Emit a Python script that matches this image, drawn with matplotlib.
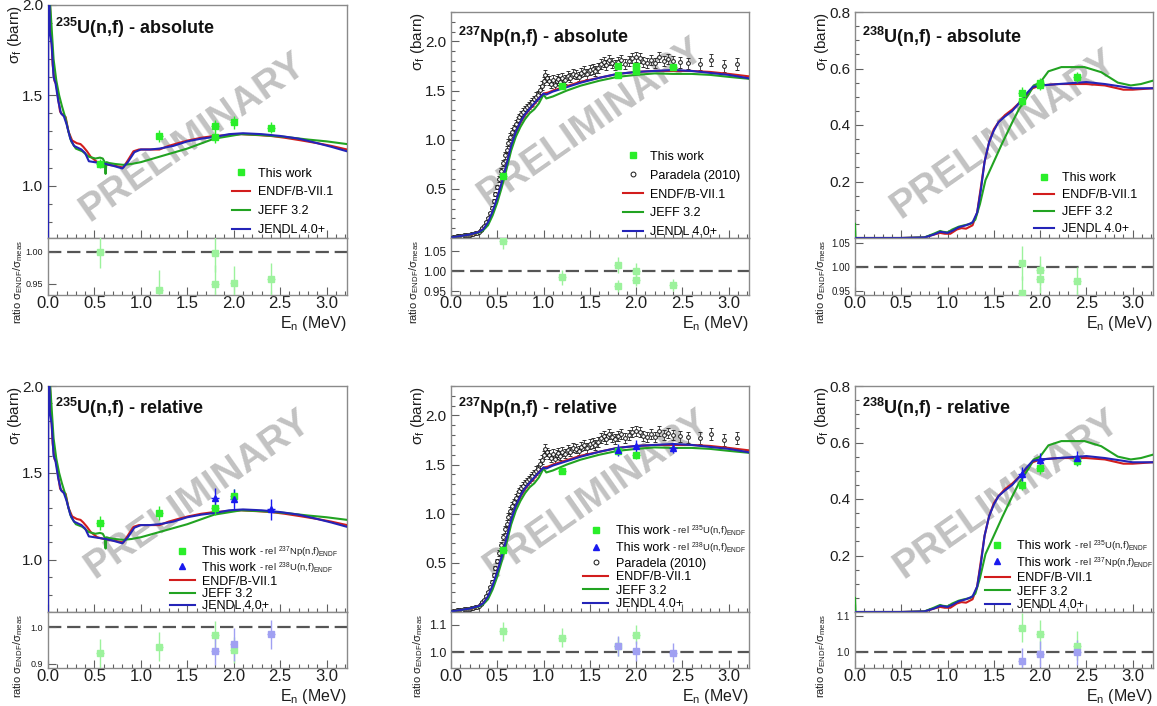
import matplotlib
matplotlib.use("Agg")
import matplotlib.pyplot as plt
from matplotlib.lines import Line2D
from matplotlib.offsetbox import TextArea, HPacker
from matplotlib.ticker import MultipleLocator, FixedLocator, FormatStrFormatter

plt.rcParams["font.family"] = ["Liberation Sans", "DejaVu Sans"]
plt.rcParams["mathtext.fontset"] = "custom"
plt.rcParams["mathtext.rm"] = "Liberation Sans"
plt.rcParams["mathtext.it"] = "Liberation Sans:italic"
plt.rcParams["mathtext.bf"] = "Liberation Sans:bold"

# ---------------- evaluated cross sections (MeV, barn) ----------------
u235_endf_e = [0.015, 0.03, 0.05, 0.07, 0.09, 0.11, 0.13, 0.16, 0.19, 0.22, 0.26, 0.31, 0.35, 0.38,
               0.42, 0.46, 0.53, 0.60, 0.65, 0.72, 0.81, 0.86, 0.92, 0.98, 1.05, 1.12, 1.20, 1.30,
               1.40, 1.51, 1.65, 1.79, 1.95, 2.08, 2.25, 2.40, 2.55, 2.73, 2.90, 3.05, 3.22]
u235_endf_s = [2.10, 1.88, 1.67, 1.58, 1.56, 1.48, 1.41, 1.39, 1.38, 1.30, 1.25, 1.235, 1.23, 1.215,
               1.19, 1.16, 1.13, 1.12, 1.115, 1.11, 1.10, 1.14, 1.19, 1.20, 1.20, 1.20, 1.20, 1.22,
               1.235, 1.25, 1.265, 1.275, 1.28, 1.285, 1.28, 1.275, 1.265, 1.25, 1.235, 1.22, 1.20]
u235_jeff_e = [0.01, 0.03, 0.06, 0.09, 0.12, 0.15, 0.19, 0.22, 0.25, 0.30, 0.37, 0.44, 0.51, 0.56,
               0.59, 0.61, 0.62, 0.63, 0.66, 0.72, 0.81, 0.90, 1.00, 1.20, 1.50, 1.79, 2.08, 2.30,
               2.55, 2.80, 3.00, 3.22]
u235_jeff_s = [2.10, 1.95, 1.70, 1.58, 1.50, 1.44, 1.37, 1.30, 1.245, 1.205, 1.19, 1.16, 1.15, 1.155,
               1.15, 1.13, 1.065, 1.13, 1.125, 1.12, 1.115, 1.12, 1.13, 1.16, 1.205, 1.26, 1.285, 1.28,
               1.27, 1.255, 1.245, 1.23]
u235_jendl_e = [0.0, 0.004, 0.02, 0.04, 0.06, 0.08, 0.11, 0.14, 0.17, 0.20, 0.24, 0.28, 0.32, 0.36,
                0.40, 0.44, 0.50, 0.56, 0.62, 0.70, 0.80, 0.86, 0.93, 1.00, 1.10, 1.20, 1.35, 1.50,
                1.65, 1.80, 1.95, 2.10, 2.30, 2.50, 2.70, 2.90, 3.05, 3.22]
u235_jendl_s = [0.0, 2.6, 1.85, 1.78, 1.60, 1.57, 1.47, 1.40, 1.385, 1.34, 1.26, 1.22, 1.21, 1.20,
                1.18, 1.135, 1.13, 1.125, 1.12, 1.11, 1.095, 1.13, 1.185, 1.20, 1.20, 1.205, 1.22, 1.245,
                1.26, 1.27, 1.285, 1.29, 1.285, 1.275, 1.26, 1.235, 1.215, 1.19]

np_endf_e = [0.0, 0.1, 0.2, 0.25, 0.3, 0.35, 0.4, 0.45, 0.5, 0.55, 0.6, 0.65, 0.7, 0.75, 0.8, 0.85,
             0.9, 0.95, 1.0, 1.05, 1.1, 1.2, 1.3, 1.4, 1.5, 1.6, 1.8, 2.0, 2.2, 2.4, 2.6, 2.8, 3.0, 3.22]
np_endf_s = [0.005, 0.02, 0.035, 0.04, 0.06, 0.09, 0.15, 0.26, 0.40, 0.56, 0.74, 0.93, 1.07, 1.17,
             1.25, 1.31, 1.36, 1.42, 1.47, 1.48, 1.50, 1.53, 1.56, 1.59, 1.61, 1.63, 1.67, 1.69,
             1.70, 1.70, 1.70, 1.69, 1.67, 1.645]
np_jeff_e = [0.0, 0.1, 0.2, 0.3, 0.35, 0.4, 0.45, 0.5, 0.55, 0.6, 0.65, 0.7, 0.75, 0.8, 0.85, 0.9,
             0.95, 1.0, 1.03, 1.1, 1.25, 1.4, 1.6, 1.8, 2.0, 2.2, 2.4, 2.6, 2.8, 3.0, 3.22]
np_jeff_s = [0.005, 0.02, 0.035, 0.055, 0.08, 0.13, 0.23, 0.36, 0.52, 0.70, 0.89, 1.03, 1.13, 1.21,
             1.27, 1.31, 1.37, 1.46, 1.42, 1.44, 1.50, 1.55, 1.60, 1.64, 1.66, 1.675, 1.67, 1.67,
             1.66, 1.64, 1.62]
np_jendl_e = [0.0, 0.1, 0.2, 0.3, 0.35, 0.4, 0.45, 0.5, 0.55, 0.6, 0.65, 0.7, 0.75, 0.8, 0.9, 1.0,
              1.03, 1.1, 1.2, 1.4, 1.6, 1.8, 2.0, 2.2, 2.4, 2.6, 2.8, 3.0, 3.22]
np_jendl_s = [0.005, 0.02, 0.035, 0.06, 0.09, 0.16, 0.27, 0.41, 0.57, 0.75, 0.94, 1.08, 1.18, 1.26,
              1.37, 1.47, 1.46, 1.49, 1.52, 1.58, 1.63, 1.67, 1.69, 1.70, 1.71, 1.70, 1.68, 1.66, 1.625]

u238_endf_e = [0.0, 0.5, 0.75, 0.85, 0.92, 0.97, 1.03, 1.1, 1.15, 1.2, 1.27, 1.32, 1.36, 1.40, 1.45,
               1.50, 1.55, 1.62, 1.70, 1.78, 1.85, 1.92, 2.0, 2.2, 2.5, 2.7, 2.9, 3.0, 3.22]
u238_endf_s = [0.0, 0.0, 0.002, 0.012, 0.018, 0.015, 0.015, 0.03, 0.035, 0.033, 0.045, 0.09, 0.18,
               0.27, 0.34, 0.385, 0.41, 0.435, 0.455, 0.48, 0.505, 0.53, 0.54, 0.545, 0.545, 0.54,
               0.525, 0.525, 0.53]
u238_jeff_e = [0.0, 0.005, 0.5, 0.75, 0.85, 0.92, 0.95, 1.0, 1.05, 1.12, 1.18, 1.25, 1.30, 1.35, 1.41,
               1.50, 1.59, 1.70, 1.77, 1.88, 1.93, 2.0, 2.09, 2.23, 2.48, 2.66, 2.84, 2.98, 3.09, 3.22]
u238_jeff_s = [0.05, 0.0, 0.0, 0.002, 0.015, 0.025, 0.022, 0.02, 0.03, 0.04, 0.045, 0.05, 0.065, 0.12,
               0.205, 0.27, 0.335, 0.41, 0.455, 0.51, 0.54, 0.55, 0.59, 0.605, 0.605, 0.587, 0.55,
               0.54, 0.545, 0.557]
u238_jendl_e = [0.0, 0.5, 0.75, 0.85, 0.92, 1.0, 1.05, 1.12, 1.2, 1.27, 1.32, 1.36, 1.40, 1.45, 1.50,
                1.55, 1.62, 1.70, 1.78, 1.85, 1.92, 2.0, 2.2, 2.5, 2.7, 2.9, 3.0, 3.22]
u238_jendl_s = [0.0, 0.0, 0.002, 0.012, 0.022, 0.018, 0.025, 0.038, 0.045, 0.055, 0.09, 0.17, 0.27,
                0.34, 0.38, 0.41, 0.43, 0.45, 0.48, 0.51, 0.535, 0.54, 0.545, 0.552, 0.545, 0.535,
                0.53, 0.53]

# ---------------- Paradela (2010) 237Np(n,f) ----------------
par_e = [0.02, 0.04, 0.06, 0.08, 0.10, 0.12, 0.14, 0.16, 0.18, 0.20, 0.22, 0.24, 0.26, 0.28, 0.30,
         0.32, 0.34, 0.36, 0.38, 0.40,
         0.42, 0.44, 0.46, 0.48, 0.50, 0.52, 0.54, 0.56, 0.58, 0.60,
         0.62, 0.64, 0.66, 0.68, 0.70, 0.72, 0.74, 0.76, 0.78, 0.80,
         0.82, 0.84, 0.86, 0.88, 0.90, 0.92, 0.94, 0.96, 0.98, 1.00,
         1.02, 1.04, 1.06, 1.08, 1.10, 1.12, 1.14, 1.16, 1.18, 1.20,
         1.23, 1.26, 1.29, 1.32, 1.35, 1.38, 1.41, 1.44, 1.47, 1.50,
         1.53, 1.56, 1.59, 1.62, 1.65, 1.68, 1.71, 1.74, 1.77, 1.80,
         1.84, 1.88, 1.92, 1.96, 2.00, 2.04, 2.08, 2.12, 2.16, 2.20,
         2.25, 2.30, 2.35, 2.40,
         2.47, 2.56, 2.69, 2.81, 2.95, 3.09]
par_s = [0.01, 0.015, 0.02, 0.02, 0.025, 0.025, 0.03, 0.03, 0.035, 0.035, 0.04, 0.045, 0.05, 0.055,
         0.065, 0.08, 0.10, 0.12, 0.16, 0.20,
         0.25, 0.31, 0.38, 0.45, 0.52, 0.60, 0.68, 0.76, 0.84, 0.90,
         0.97, 1.03, 1.08, 1.12, 1.16, 1.20, 1.23, 1.26, 1.28, 1.31,
         1.33, 1.35, 1.37, 1.38, 1.41, 1.44, 1.46, 1.51, 1.55, 1.60,
         1.66, 1.63, 1.60, 1.57, 1.61, 1.56, 1.60, 1.62, 1.59, 1.63,
         1.61, 1.65, 1.63, 1.67, 1.66, 1.64, 1.68, 1.70, 1.67, 1.71,
         1.72, 1.70, 1.73, 1.77, 1.79, 1.76, 1.81, 1.78, 1.76, 1.79,
         1.81, 1.77, 1.80, 1.83, 1.84, 1.83, 1.79, 1.78, 1.81, 1.78,
         1.84, 1.80, 1.82, 1.80,
         1.79, 1.78, 1.77, 1.81, 1.75, 1.77]
par_err = [0.004, 0.004, 0.005, 0.005, 0.005, 0.005, 0.005, 0.005, 0.005, 0.005, 0.006, 0.006, 0.006,
           0.007, 0.007, 0.008, 0.009, 0.010, 0.012, 0.014,
           0.016, 0.018, 0.020, 0.022, 0.024, 0.026, 0.028, 0.030, 0.031, 0.032,
           0.033, 0.034, 0.035, 0.035, 0.036, 0.036, 0.037, 0.037, 0.038, 0.038,
           0.038, 0.039, 0.039, 0.040, 0.040, 0.041, 0.041, 0.042, 0.043, 0.043,
           0.045, 0.044, 0.044, 0.043, 0.044, 0.043, 0.044, 0.044, 0.044, 0.045,
           0.045, 0.045, 0.045, 0.046, 0.046, 0.046, 0.046, 0.047, 0.047, 0.047,
           0.047, 0.047, 0.048, 0.048, 0.048, 0.048, 0.049, 0.049, 0.049, 0.049,
           0.050, 0.050, 0.050, 0.051, 0.051, 0.051, 0.051, 0.052, 0.052, 0.052,
           0.053, 0.053, 0.053, 0.054,
           0.055, 0.056, 0.057, 0.058, 0.060, 0.062]

# ---------------- this work ----------------
E_HALF = 0.04  # half width of the energy bins

u235_abs_e = [0.56, 1.2, 1.8, 1.8, 2.0, 2.4]
u235_abs_s = [1.12, 1.275, 1.33, 1.27, 1.35, 1.32]
u235_abs_err = [0.025, 0.035, 0.035, 0.035, 0.035, 0.03]
u235_abs_r = [1.000, 0.941, 0.998, 0.950, 0.951, 0.958]
u235_abs_rerr = [0.025, 0.03, 0.03, 0.03, 0.027, 0.025]

np_abs_e = [0.56, 1.2, 1.8, 1.8, 2.0, 2.0, 2.4]
np_abs_s = [0.63, 1.55, 1.75, 1.66, 1.75, 1.70, 1.74]
np_abs_err = [0.02, 0.03, 0.03, 0.03, 0.03, 0.03, 0.03]
np_abs_r = [1.075, 0.985, 1.015, 0.963, 1.000, 0.978, 0.967]
np_abs_rerr = [0.02, 0.018, 0.02, 0.015, 0.02, 0.015, 0.015]

u238_abs_e = [1.8, 1.8, 2.0, 2.0, 2.4]
u238_abs_s = [0.515, 0.486, 0.549, 0.542, 0.569]
u238_abs_err = [0.018, 0.018, 0.018, 0.018, 0.018]
u238_abs_r = [1.009, 0.947, 0.993, 0.976, 0.970]
u238_abs_rerr = [0.035, 0.035, 0.03, 0.03, 0.03]

u235_rel_np_e = [0.56, 1.2, 1.8, 2.0]
u235_rel_np_s = [1.21, 1.27, 1.30, 1.37]
u235_rel_np_err = [0.04, 0.04, 0.04, 0.04]
u235_rel_np_r = [0.928, 0.947, 0.978, 0.937]
u235_rel_np_rerr = [0.04, 0.04, 0.04, 0.035]
u235_rel_u8_e = [1.8, 2.0, 2.4]
u235_rel_u8_s = [1.355, 1.35, 1.29]
u235_rel_u8_err = [0.06, 0.06, 0.06]
u235_rel_u8_r = [0.935, 0.953, 0.981]
u235_rel_u8_rerr = [0.04, 0.045, 0.04]

np_rel_u5_e = [0.56, 1.2, 1.8, 2.0]
np_rel_u5_s = [0.63, 1.44, 1.64, 1.60]
np_rel_u5_err = [0.02, 0.03, 0.04, 0.04]
np_rel_u5_r = [1.077, 1.053, 1.022, 1.064]
np_rel_u5_rerr = [0.035, 0.035, 0.035, 0.035]
np_rel_u8_e = [1.8, 2.0, 2.4]
np_rel_u8_s = [1.65, 1.69, 1.67]
np_rel_u8_err = [0.06, 0.06, 0.05]
np_rel_u8_r = [1.023, 1.005, 0.999]
np_rel_u8_rerr = [0.035, 0.035, 0.035]

u238_rel_u5_e = [1.8, 2.0, 2.4]
u238_rel_u5_s = [0.451, 0.51, 0.536]
u238_rel_u5_err = [0.02, 0.02, 0.02]
u238_rel_u5_r = [1.068, 1.049, 1.018]
u238_rel_u5_rerr = [0.04, 0.04, 0.04]
u238_rel_np_e = [1.8, 2.0, 2.4]
u238_rel_np_s = [0.49, 0.537, 0.546]
u238_rel_np_err = [0.025, 0.025, 0.025]
u238_rel_np_r = [0.976, 0.995, 0.999]
u238_rel_np_rerr = [0.035, 0.035, 0.035]

# ---------------- styling ----------------
RED, GREEN, BLUE = "#d21d1d", "#22a322", "#2424b8"
PT_GREEN, PT_BLUE = "#2aee2a", "#1a1aee"
R_GREEN, R_BLUE = "#9cf29c", "#a0a0f2"

W, H = 1157, 706
fig = plt.figure(figsize=(W / 100, H / 100), dpi=100)


def box(l, t, r, b):
    return [l / W, 1 - b / H, (r - l) / W, (b - t) / H]


def frame(ax, size):
    for sp in ax.spines.values():
        sp.set_color("#8a8a8a")
        sp.set_linewidth(1.0)
    ax.tick_params(which="both", direction="in", colors="#606060", labelcolor="#1e1e1e",
                   labelsize=size, width=0.8)
    ax.tick_params(which="major", length=6)
    ax.tick_params(which="minor", length=3)
    ax.set_xlim(0, 3.22)
    ax.xaxis.set_major_locator(MultipleLocator(0.5))
    ax.xaxis.set_minor_locator(MultipleLocator(0.1))


def add_suffix(leg, idx, text):
    # small "- rel ..." tag glued onto the "This work" legend text
    rows = [r for c in leg._legend_handle_box.get_children() for r in c.get_children()]
    kids = rows[idx].get_children()
    extra = TextArea(text, textprops=dict(fontsize=6.8, color="#1e1e1e"))
    packed = HPacker(children=[kids[1], extra], pad=0, sep=2, align="baseline")
    packed.set_figure(fig)
    kids[1] = packed


def panel(p):
    l, r = p["cols"]
    ax = fig.add_axes(box(l, p["top"], r, p["mid"]))
    axr = fig.add_axes(box(l, p["mid"], r, p["bot"]))
    frame(ax, 11)
    frame(axr, 12)

    e_list = p["evals"]
    ax.plot(e_list[0][0], e_list[0][1], color=RED, lw=1.5, zorder=3)
    ax.plot(e_list[1][0], e_list[1][1], color=GREEN, lw=1.5, zorder=3)
    ax.plot(e_list[2][0], e_list[2][1], color=BLUE, lw=1.5, zorder=3)

    if p["paradela"]:
        ax.errorbar(par_e, par_s, yerr=par_err, fmt="o", ms=2.7, mfc="white", mec="#151515",
                    mew=0.7, ecolor="#303030", elinewidth=0.6, capsize=1.3, capthick=0.6, zorder=2.5)

    handles, labels = [], []
    for m in p["meas"]:
        ax.errorbar(m["e"], m["s"], yerr=m["err"], xerr=E_HALF, fmt=m["marker"], color=m["color"],
                    ms=5, elinewidth=1.0, capsize=0, zorder=5)
        axr.errorbar(m["e"], m["r"], yerr=m["rerr"], xerr=E_HALF, fmt="s", color=m["rcolor"],
                     ms=5, elinewidth=1.0, capsize=0, zorder=5)
        handles.append(Line2D([], [], ls="none", marker=m["marker"], color=m["color"], ms=4.5))
        labels.append("This work")
    if p["paradela"]:
        handles.append(Line2D([], [], ls="none", marker="o", ms=3.5, mfc="white", mec="#151515",
                              mew=0.7))
        labels.append("Paradela (2010)")
    for c, name in [(RED, "ENDF/B-VII.1"), (GREEN, "JEFF 3.2"), (BLUE, "JENDL 4.0+")]:
        handles.append(Line2D([], [], color=c, lw=1.5))
        labels.append(name)

    leg = ax.legend(handles, labels, loc="lower right", bbox_to_anchor=p["anchor"],
                    frameon=False, fontsize=9, labelspacing=p["lsp"], handlelength=p["hlen"],
                    handletextpad=0.6, borderaxespad=0.3)
    for i, m in enumerate(p["meas"]):
        if "suffix" in m:
            add_suffix(leg, i, m["suffix"])

    ax.set_ylim(*p["ylim"])
    ax.yaxis.set_major_locator(FixedLocator(p["yticks"]))
    ax.yaxis.set_minor_locator(MultipleLocator(p["yminor"]))
    ax.yaxis.set_major_formatter(FormatStrFormatter("%.1f"))
    ax.tick_params(labelbottom=False)

    axr.axhline(1.0, color="#555555", lw=1.6, ls=(0, (6, 2.6)), zorder=1)
    axr.set_ylim(*p["rlim"])
    axr.yaxis.set_major_locator(FixedLocator(p["rticks"]))
    axr.yaxis.set_major_formatter(FormatStrFormatter(p["rfmt"]))
    axr.tick_params(axis="y", labelsize=p["rsize"])
    axr.tick_params(axis="x", pad=0.5)
    axr.xaxis.set_major_formatter(FormatStrFormatter("%.1f"))

    ax.text(0.025, p["ty"], p["title"], transform=ax.transAxes, fontsize=13, fontweight="bold",
            va="top", ha="left", color="#111111")
    ax.text(-0.11, 1.0, "σ$_{\\mathrm{f}}$ (barn)", transform=ax.transAxes, rotation=90,
            ha="center", va="top", fontsize=11, color="#1e1e1e")
    axr.text(p["rlx"], 0.97, "ratio σ$_{\\mathrm{ENDF}}$/σ$_{\\mathrm{meas}}$",
             transform=axr.transAxes, rotation=90, ha="center", va="top", fontsize=8,
             color="#1e1e1e")
    axr.text(1.0, p["xly"], "E$_{\\mathrm{n}}$ (MeV)", transform=axr.transAxes, ha="right",
             va="top", fontsize=11.5, color="#1e1e1e")
    ax.text(p["wm"][0], p["wm"][1], "PRELIMINARY", transform=ax.transAxes, rotation=35,
            ha="center", va="center", fontsize=28, fontweight="bold", color="#c2c2c2", zorder=1)


COLS = [(48, 347), (451, 749), (855, 1153)]
U235 = [(u235_endf_e, u235_endf_s), (u235_jeff_e, u235_jeff_s), (u235_jendl_e, u235_jendl_s)]
NP237 = [(np_endf_e, np_endf_s), (np_jeff_e, np_jeff_s), (np_jendl_e, np_jendl_s)]
U238 = [(u238_endf_e, u238_endf_s), (u238_jeff_e, u238_jeff_s), (u238_jendl_e, u238_jendl_s)]


def meas(e, s, err, r, rerr, marker, color, rcolor, suffix=None):
    d = dict(e=e, s=s, err=err, r=r, rerr=rerr, marker=marker, color=color, rcolor=rcolor)
    if suffix:
        d["suffix"] = suffix
    return d


panels = [
    dict(cols=COLS[0], top=5, mid=238, bot=295, evals=U235, paradela=False,
         meas=[meas(u235_abs_e, u235_abs_s, u235_abs_err, u235_abs_r, u235_abs_rerr, "s",
                    PT_GREEN, R_GREEN)],
         ylim=(0.71, 2.0), yticks=[1.0, 1.5, 2.0], yminor=0.1,
         rlim=(0.933, 1.021), rticks=[0.95, 1.00], rfmt="%.2f", rsize=6.5, rlx=-0.10,
         title="$^{\\mathbf{235}}$U(n,f) - absolute", ty=0.955, lsp=0.55, hlen=1.5,
         anchor=(0.983, -0.03), wm=(0.485, 0.43), xly=-0.34),
    dict(cols=COLS[1], top=12, mid=238, bot=295, evals=NP237, paradela=True,
         meas=[meas(np_abs_e, np_abs_s, np_abs_err, np_abs_r, np_abs_rerr, "s",
                    PT_GREEN, R_GREEN)],
         ylim=(0.0, 2.3), yticks=[0.5, 1.0, 1.5, 2.0], yminor=0.1,
         rlim=(0.941, 1.083), rticks=[0.95, 1.00, 1.05], rfmt="%.2f", rsize=8.5, rlx=-0.125,
         title="$^{\\mathbf{237}}$Np(n,f) - absolute", ty=0.945, lsp=0.55, hlen=1.6,
         anchor=(1.0, -0.04), wm=(0.47, 0.51), xly=-0.34),
    dict(cols=COLS[2], top=12, mid=238, bot=295, evals=U238, paradela=False,
         meas=[meas(u238_abs_e, u238_abs_s, u238_abs_err, u238_abs_r, u238_abs_rerr, "s",
                    PT_GREEN, R_GREEN)],
         ylim=(0.0, 0.8), yticks=[0.2, 0.4, 0.6, 0.8], yminor=0.05,
         rlim=(0.942, 1.060), rticks=[0.95, 1.00, 1.05], rfmt="%.2f", rsize=7, rlx=-0.115,
         title="$^{\\mathbf{238}}$U(n,f) - absolute", ty=0.945, lsp=0.4, hlen=1.6,
         anchor=(0.975, -0.027), wm=(0.50, 0.46), xly=-0.34),
    dict(cols=COLS[0], top=386, mid=612, bot=668, evals=U235, paradela=False,
         meas=[meas(u235_rel_np_e, u235_rel_np_s, u235_rel_np_err, u235_rel_np_r,
                    u235_rel_np_rerr, "s", PT_GREEN, R_GREEN,
                    "- rel $^{237}$Np(n,f)$_{\\mathrm{ENDF}}$"),
               meas(u235_rel_u8_e, u235_rel_u8_s, u235_rel_u8_err, u235_rel_u8_r,
                    u235_rel_u8_rerr, "^", PT_BLUE, R_BLUE,
                    "- rel $^{238}$U(n,f)$_{\\mathrm{ENDF}}$")],
         ylim=(0.70, 2.0), yticks=[1.0, 1.5, 2.0], yminor=0.1,
         rlim=(0.888, 1.042), rticks=[0.9, 1.0], rfmt="%.1f", rsize=6.5, rlx=-0.10,
         title="$^{\\mathbf{235}}$U(n,f) - relative", ty=0.955, lsp=0.02, hlen=2.0,
         anchor=(1.0, -0.04), wm=(0.50, 0.52), xly=-0.345),
    dict(cols=COLS[1], top=386, mid=612, bot=668, evals=NP237, paradela=True,
         meas=[meas(np_rel_u5_e, np_rel_u5_s, np_rel_u5_err, np_rel_u5_r, np_rel_u5_rerr, "s",
                    PT_GREEN, R_GREEN, "- rel $^{235}$U(n,f)$_{\\mathrm{ENDF}}$"),
               meas(np_rel_u8_e, np_rel_u8_s, np_rel_u8_err, np_rel_u8_r, np_rel_u8_rerr, "^",
                    PT_BLUE, R_BLUE, "- rel $^{238}$U(n,f)$_{\\mathrm{ENDF}}$")],
         ylim=(0.0, 2.3), yticks=[0.5, 1.0, 1.5, 2.0], yminor=0.1,
         rlim=(0.943, 1.147), rticks=[1.0, 1.1], rfmt="%.1f", rsize=9, rlx=-0.11,
         title="$^{\\mathbf{237}}$Np(n,f) - relative", ty=0.955, lsp=0.12, hlen=2.0,
         anchor=(1.02, -0.03), wm=(0.49, 0.52), xly=-0.345),
    dict(cols=COLS[2], top=386, mid=612, bot=668, evals=U238, paradela=False,
         meas=[meas(u238_rel_u5_e, u238_rel_u5_s, u238_rel_u5_err, u238_rel_u5_r,
                    u238_rel_u5_rerr, "s", PT_GREEN, R_GREEN,
                    "- rel $^{235}$U(n,f)$_{\\mathrm{ENDF}}$"),
               meas(u238_rel_np_e, u238_rel_np_s, u238_rel_np_err, u238_rel_np_r,
                    u238_rel_np_rerr, "^", PT_BLUE, R_BLUE,
                    "- rel $^{237}$Np(n,f)$_{\\mathrm{ENDF}}$")],
         ylim=(0.0, 0.8), yticks=[0.2, 0.4, 0.6, 0.8], yminor=0.05,
         rlim=(0.956, 1.111), rticks=[1.0, 1.1], rfmt="%.1f", rsize=7, rlx=-0.115,
         title="$^{\\mathbf{238}}$U(n,f) - relative", ty=0.955, lsp=0.12, hlen=2.0,
         anchor=(1.03, -0.035), wm=(0.51, 0.52), xly=-0.345),
]

for p in panels:
    panel(p)

fig.savefig("out.png", dpi=100)
